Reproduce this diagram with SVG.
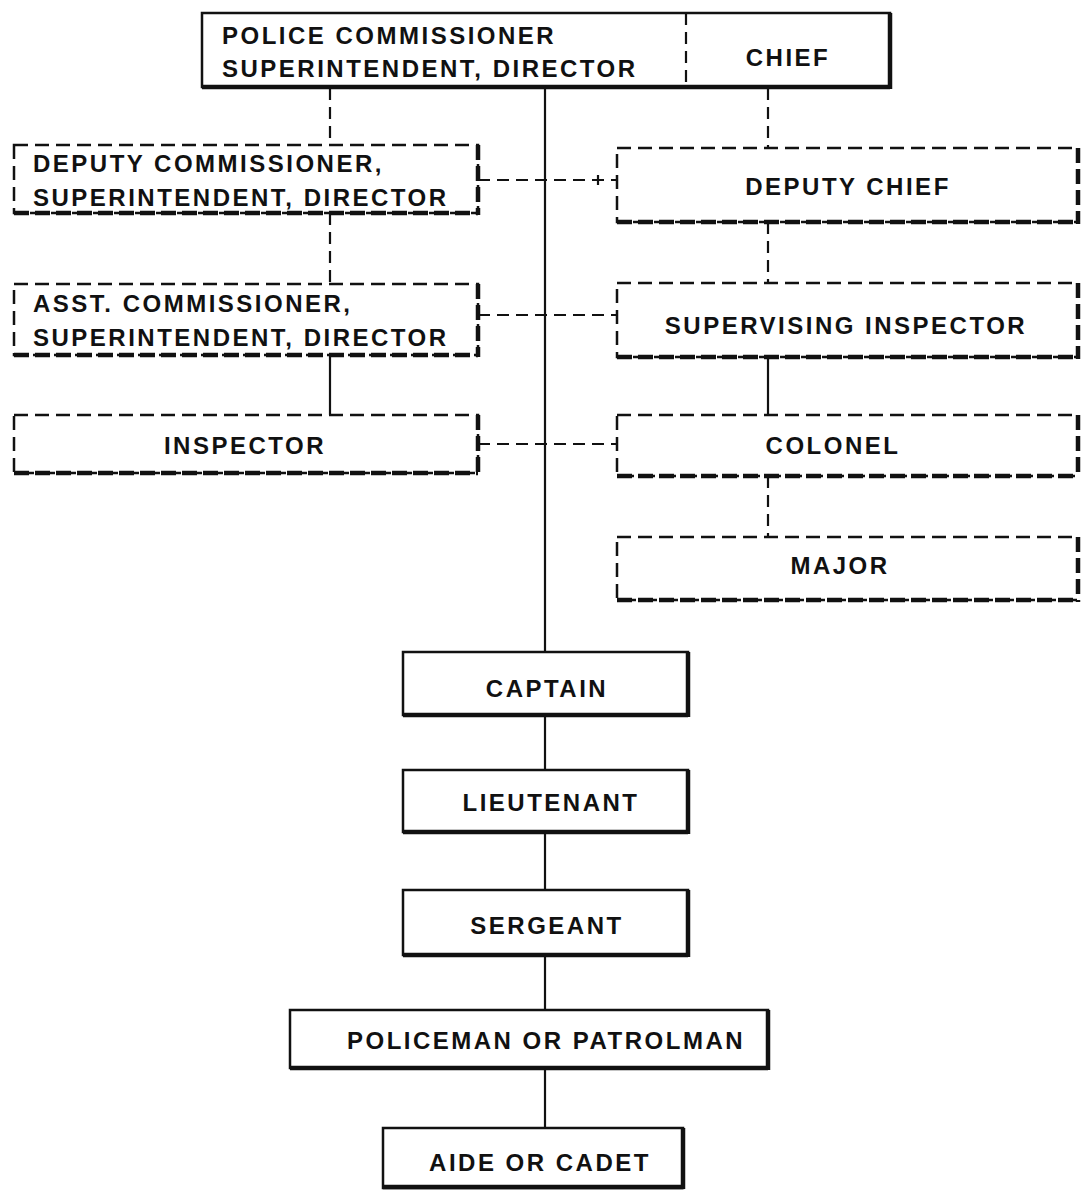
<svg xmlns="http://www.w3.org/2000/svg" width="1092" height="1191" viewBox="0 0 1092 1191">
<style>
.t{font-family:"Liberation Sans",Arial,sans-serif;font-weight:bold;font-size:24px;letter-spacing:2.5px;fill:#111}
.c{text-anchor:middle}
.sb{fill:#fff;stroke:#111;stroke-width:2.5}
.sk{stroke:#111;stroke-width:4.5;fill:none}
.db{fill:#fff;stroke:#111;stroke-width:2.5;stroke-dasharray:14 7}
.dk{stroke:#111;stroke-width:4.5;fill:none;stroke-dasharray:15 6}
.ln{stroke:#111;stroke-width:2.2;fill:none}
.dl{stroke:#111;stroke-width:2.2;fill:none;stroke-dasharray:12 7}
</style>
<rect width="1092" height="1191" fill="#fff"/>
<g id="connectors">
<line class="ln" x1="545" y1="88" x2="545" y2="652"/>
<line class="ln" x1="545" y1="715" x2="545" y2="770"/>
<line class="ln" x1="545" y1="832" x2="545" y2="890"/>
<line class="ln" x1="545" y1="955" x2="545" y2="1010"/>
<line class="ln" x1="545" y1="1068" x2="545" y2="1128"/>
<line class="dl" x1="330" y1="88" x2="330" y2="145"/>
<line class="dl" x1="330" y1="213" x2="330" y2="284"/>
<line class="ln" x1="330" y1="355" x2="330" y2="415"/>
<line class="dl" x1="768" y1="88" x2="768" y2="148"/>
<line class="dl" x1="768" y1="222" x2="768" y2="283"/>
<line class="ln" x1="768" y1="357" x2="768" y2="415"/>
<line class="dl" x1="768" y1="476" x2="768" y2="537"/>
<line class="dl" x1="478" y1="180" x2="617" y2="180"/>
<line class="ln" x1="598" y1="175" x2="598" y2="185"/>
<line class="dl" x1="478" y1="315" x2="617" y2="315"/>
<line class="dl" x1="478" y1="444" x2="617" y2="444"/>
</g>
<g id="top">
<rect class="sb" x="202" y="13" width="688" height="74"/>
<line class="sk" x1="202" y1="87" x2="890" y2="87"/>
<line class="sk" x1="890" y1="13" x2="890" y2="89"/>
<line class="dl" x1="686" y1="13" x2="686" y2="87"/>
<text class="t" x="222" y="44">POLICE COMMISSIONER</text>
<text class="t" x="222" y="77">SUPERINTENDENT, DIRECTOR</text>
<text class="t c" x="788" y="66">CHIEF</text>
</g>
<g id="deputy-commissioner">
<rect class="db" x="14" y="145" width="464" height="68"/>
<line class="dk" x1="14" y1="213" x2="478" y2="213"/>
<line class="dk" x1="478" y1="145" x2="478" y2="215"/>
<text class="t" x="33" y="172">DEPUTY COMMISSIONER,</text>
<text class="t" x="33" y="206">SUPERINTENDENT, DIRECTOR</text>
</g>
<g id="deputy-chief">
<rect class="db" x="617" y="148" width="461" height="74"/>
<line class="dk" x1="617" y1="222" x2="1078" y2="222"/>
<line class="dk" x1="1078" y1="148" x2="1078" y2="224"/>
<text class="t c" x="848" y="195">DEPUTY CHIEF</text>
</g>
<g id="asst-commissioner">
<rect class="db" x="14" y="284" width="464" height="71"/>
<line class="dk" x1="14" y1="355" x2="478" y2="355"/>
<line class="dk" x1="478" y1="284" x2="478" y2="357"/>
<text class="t" x="33" y="312">ASST. COMMISSIONER,</text>
<text class="t" x="33" y="346">SUPERINTENDENT, DIRECTOR</text>
</g>
<g id="supervising-inspector">
<rect class="db" x="617" y="283" width="461" height="74"/>
<line class="dk" x1="617" y1="357" x2="1078" y2="357"/>
<line class="dk" x1="1078" y1="283" x2="1078" y2="359"/>
<text class="t c" x="846" y="334">SUPERVISING INSPECTOR</text>
</g>
<g id="inspector">
<rect class="db" x="14" y="415" width="464" height="58"/>
<line class="dk" x1="14" y1="473" x2="478" y2="473"/>
<line class="dk" x1="478" y1="415" x2="478" y2="475"/>
<text class="t c" x="245" y="454">INSPECTOR</text>
</g>
<g id="colonel">
<rect class="db" x="617" y="415" width="461" height="61"/>
<line class="dk" x1="617" y1="476" x2="1078" y2="476"/>
<line class="dk" x1="1078" y1="415" x2="1078" y2="478"/>
<text class="t c" x="833" y="454">COLONEL</text>
</g>
<g id="major">
<rect class="db" x="617" y="537" width="461" height="63"/>
<line class="dk" x1="617" y1="600" x2="1078" y2="600"/>
<line class="dk" x1="1078" y1="537" x2="1078" y2="602"/>
<text class="t c" x="840" y="574">MAJOR</text>
</g>
<g id="captain">
<rect class="sb" x="403" y="652" width="285" height="63"/>
<line class="sk" x1="403" y1="715" x2="688" y2="715"/>
<line class="sk" x1="688" y1="652" x2="688" y2="717"/>
<text class="t c" x="547" y="697">CAPTAIN</text>
</g>
<g id="lieutenant">
<rect class="sb" x="403" y="770" width="285" height="62"/>
<line class="sk" x1="403" y1="832" x2="688" y2="832"/>
<line class="sk" x1="688" y1="770" x2="688" y2="834"/>
<text class="t c" x="551" y="811">LIEUTENANT</text>
</g>
<g id="sergeant">
<rect class="sb" x="403" y="890" width="285" height="65"/>
<line class="sk" x1="403" y1="955" x2="688" y2="955"/>
<line class="sk" x1="688" y1="890" x2="688" y2="957"/>
<text class="t c" x="547" y="934">SERGEANT</text>
</g>
<g id="policeman">
<rect class="sb" x="290" y="1010" width="478" height="58"/>
<line class="sk" x1="290" y1="1068" x2="768" y2="1068"/>
<line class="sk" x1="768" y1="1010" x2="768" y2="1070"/>
<text class="t c" x="546" y="1049">POLICEMAN OR PATROLMAN</text>
</g>
<g id="aide">
<rect class="sb" x="383" y="1128" width="300" height="60"/>
<line class="sk" x1="383" y1="1187" x2="683" y2="1187"/>
<line class="sk" x1="683" y1="1128" x2="683" y2="1189"/>
<text class="t c" x="540" y="1171">AIDE OR CADET</text>
</g>
</svg>
